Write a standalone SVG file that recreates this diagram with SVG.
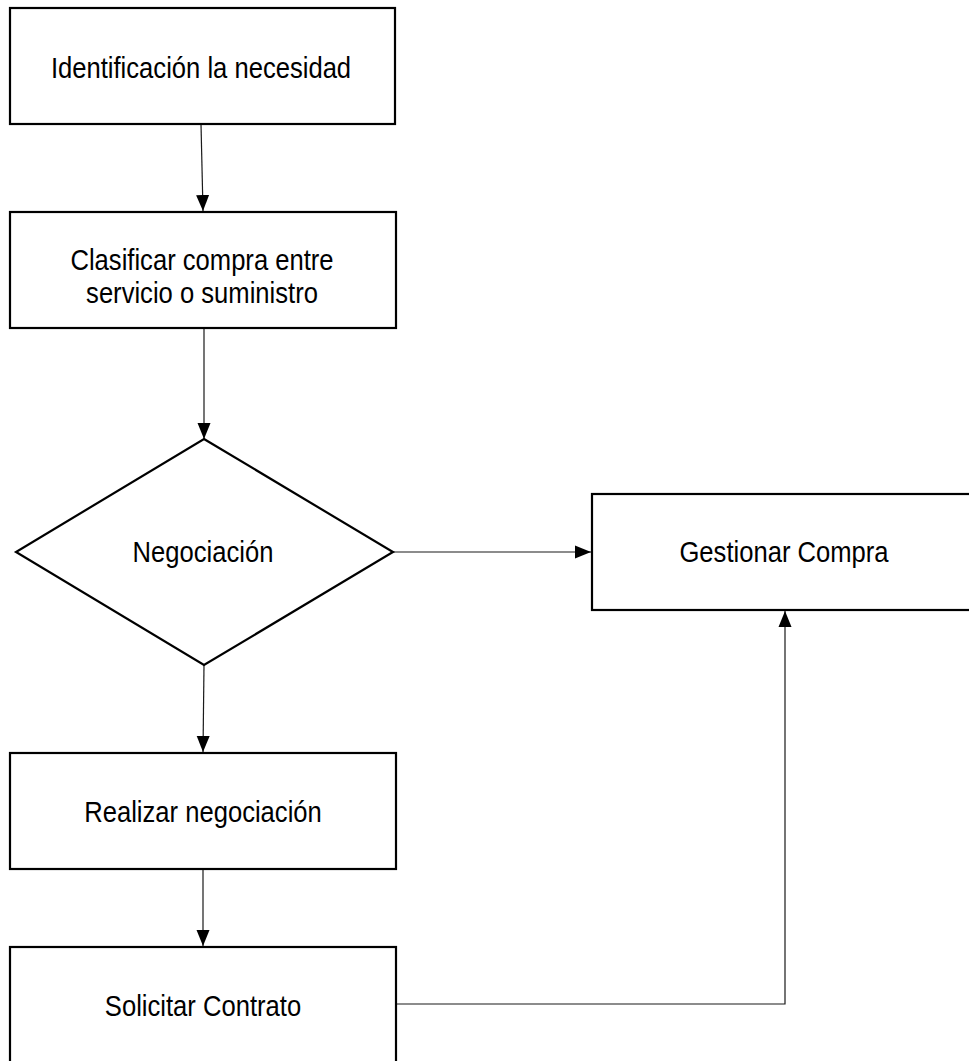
<svg xmlns="http://www.w3.org/2000/svg" width="969" height="1061" viewBox="0 0 969 1061">
  <style>
    .box { fill: #ffffff; stroke: #000000; stroke-width: 2.2; }
    .lbl { font-family: "Liberation Sans", Arial, sans-serif; font-size: 25.6px; fill: #000000; text-anchor: middle; }
    .edge { fill: none; stroke: #1a1a1a; stroke-width: 1.2; }
  </style>
  <defs>
    <marker id="arrow" markerUnits="userSpaceOnUse" markerWidth="16" markerHeight="14" viewBox="0 0 16 14" refX="16" refY="7" orient="auto">
      <path d="M0,0.5 L16,7 L0,13.5 Z" fill="#000000"/>
    </marker>
  </defs>
  <rect width="969" height="1061" fill="#ffffff"/>

  <!-- connectors -->
  <g id="connectors">
    <path class="edge" d="M201,124 L203,211" marker-end="url(#arrow)"/>
    <path class="edge" d="M204,328 L204,439" marker-end="url(#arrow)"/>
    <path class="edge" d="M393,552 L591,552" marker-end="url(#arrow)"/>
    <path class="edge" d="M204,665 L203,752" marker-end="url(#arrow)"/>
    <path class="edge" d="M203,870 L203,946" marker-end="url(#arrow)"/>
    <path class="edge" d="M396,1004 L785,1004 L785,611" marker-end="url(#arrow)"/>
  </g>

  <!-- labels are stretched slightly in height (narrow-looking face) -->
  <g id="identificacion">
    <rect class="box" x="10" y="8" width="385" height="116"/>
    <text class="lbl" transform="translate(201,78) scale(1,1.15)">Identificación la necesidad</text>
  </g>

  <g id="clasificar">
    <rect class="box" x="10" y="212" width="386" height="116"/>
    <text class="lbl" transform="translate(202,270) scale(1,1.15)">Clasificar compra entre</text>
    <text class="lbl" transform="translate(202,303) scale(1,1.15)">servicio o suministro</text>
  </g>

  <g id="negociacion">
    <polygon class="box" points="204,439 393,552 204,665 16,552"/>
    <text class="lbl" transform="translate(203,562) scale(1,1.15)">Negociación</text>
  </g>

  <g id="gestionar">
    <rect class="box" x="592" y="494" width="390" height="116"/>
    <text class="lbl" transform="translate(784,562) scale(1,1.15)">Gestionar Compra</text>
  </g>

  <g id="realizar">
    <rect class="box" x="10" y="753" width="386" height="116"/>
    <text class="lbl" transform="translate(203,822) scale(1,1.15)">Realizar negociación</text>
  </g>

  <g id="solicitar">
    <rect class="box" x="10" y="947" width="386" height="120"/>
    <text class="lbl" transform="translate(203,1016) scale(1,1.15)">Solicitar Contrato</text>
  </g>
</svg>
